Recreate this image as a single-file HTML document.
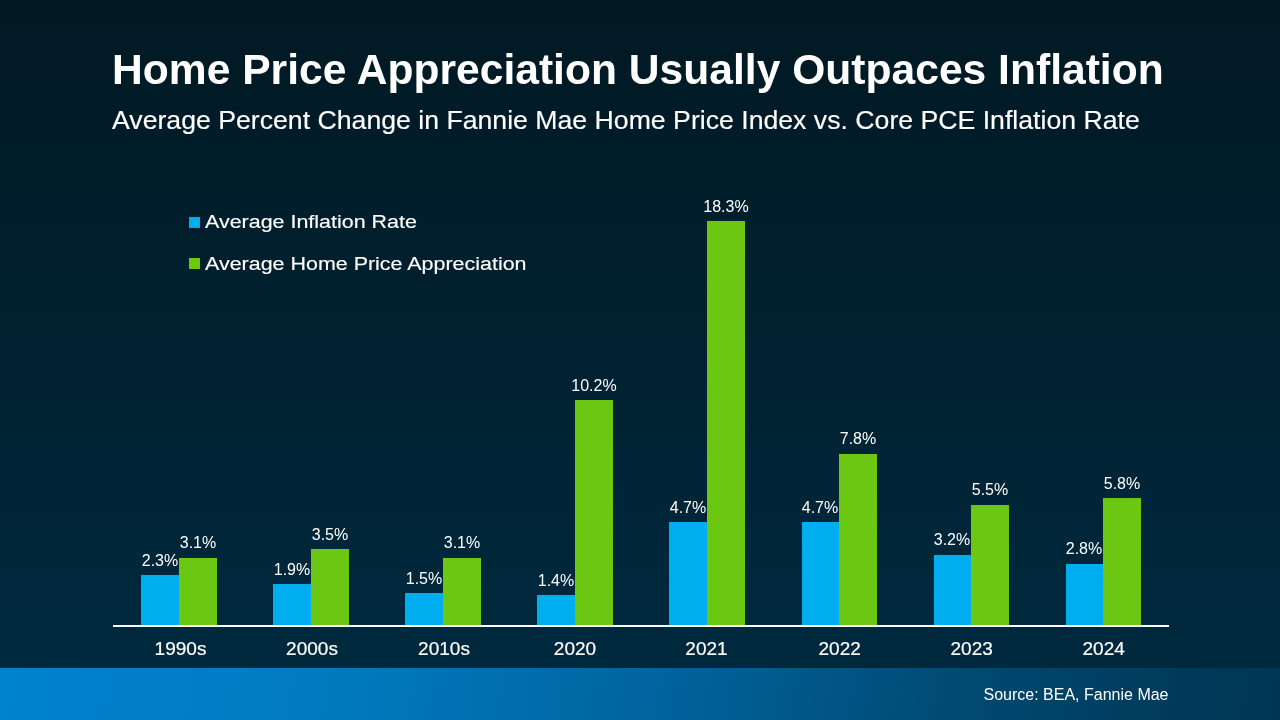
<!DOCTYPE html>
<html lang="en">
<head>
<meta charset="utf-8">
<title>Home Price Appreciation Usually Outpaces Inflation</title>
<style>
html,body{margin:0;padding:0;}
body{width:1280px;height:720px;overflow:hidden;background:#02263d;font-family:"Liberation Sans",sans-serif;color:#fff;}
.slide{position:relative;width:1280px;height:720px;overflow:hidden;background:linear-gradient(180deg,#011923 0px,#00293e 668px);}
.footer{position:absolute;left:0;top:668px;width:1280px;height:52px;background:linear-gradient(100deg,#0082ce 0%,#007bc0 25%,#0065a0 50%,#004b74 74%,#003a5a 92%,#003654 100%);}
.t{position:absolute;white-space:nowrap;margin:0;font-weight:normal;}
.c{text-align:center;}
.s{-webkit-text-stroke:0.2px #fff;}
.s1{-webkit-text-stroke:0.15px #fff;}
.bar{position:absolute;}
.b{background:#00aeef;}
.g{background:#6cc712;}
.axis{position:absolute;left:113px;top:625px;width:1056px;height:2px;background:#fff;}
.sw{position:absolute;width:11px;height:11px;}
</style>
</head>
<body>
<div class="slide">
<h1 class="t title" style="left:112.20px;top:48.15px;font-size:43.3px;line-height:43.3px;font-weight:bold;transform:scaleX(0.9838);transform-origin:0 0;">Home Price Appreciation Usually Outpaces Inflation</h1>
<h2 class="t sub s1" style="left:112.00px;top:106.92px;font-size:26.67px;line-height:26.67px;">Average Percent Change in Fannie Mae Home Price Index vs. Core PCE Inflation Rate</h2>
<div class="legend">
<span class="sw b" style="left:189px;top:217px;"></span>
<div class="t lg s1" style="left:205.00px;top:212.35px;font-size:19.2px;line-height:19.2px;transform:scaleX(1.118);transform-origin:0 0;">Average Inflation Rate</div>
<span class="sw g" style="left:189px;top:258px;"></span>
<div class="t lg s1" style="left:205.00px;top:253.55px;font-size:19.2px;line-height:19.2px;transform:scaleX(1.118);transform-origin:0 0;">Average Home Price Appreciation</div>
</div>
<div class="chart">
<div class="bar b" style="left:141px;top:575px;width:38px;height:51px;"></div>
<div class="bar g" style="left:179px;top:558px;width:38px;height:68px;"></div>
<div class="t c" style="left:110.00px;top:552.76px;font-size:16px;line-height:16px;width:100px;">2.3%</div>
<div class="t c" style="left:148.00px;top:534.76px;font-size:16px;line-height:16px;width:100px;">3.1%</div>
<div class="t c s" style="left:120.50px;top:639.12px;font-size:19.0px;line-height:19.0px;width:120px;">1990s</div>
<div class="bar b" style="left:273px;top:584px;width:38px;height:42px;"></div>
<div class="bar g" style="left:311px;top:549px;width:38px;height:77px;"></div>
<div class="t c" style="left:242.00px;top:561.76px;font-size:16px;line-height:16px;width:100px;">1.9%</div>
<div class="t c" style="left:280.00px;top:526.76px;font-size:16px;line-height:16px;width:100px;">3.5%</div>
<div class="t c s" style="left:252.00px;top:639.12px;font-size:19.0px;line-height:19.0px;width:120px;">2000s</div>
<div class="bar b" style="left:405px;top:593px;width:38px;height:33px;"></div>
<div class="bar g" style="left:443px;top:558px;width:38px;height:68px;"></div>
<div class="t c" style="left:374.00px;top:570.76px;font-size:16px;line-height:16px;width:100px;">1.5%</div>
<div class="t c" style="left:412.00px;top:534.76px;font-size:16px;line-height:16px;width:100px;">3.1%</div>
<div class="t c s" style="left:384.00px;top:639.12px;font-size:19.0px;line-height:19.0px;width:120px;">2010s</div>
<div class="bar b" style="left:537px;top:595px;width:38px;height:31px;"></div>
<div class="bar g" style="left:575px;top:400px;width:38px;height:226px;"></div>
<div class="t c" style="left:506.00px;top:572.76px;font-size:16px;line-height:16px;width:100px;">1.4%</div>
<div class="t c" style="left:544.00px;top:377.76px;font-size:16px;line-height:16px;width:100px;">10.2%</div>
<div class="t c s" style="left:515.00px;top:639.12px;font-size:19.0px;line-height:19.0px;width:120px;">2020</div>
<div class="bar b" style="left:669px;top:522px;width:38px;height:104px;"></div>
<div class="bar g" style="left:707px;top:221px;width:38px;height:405px;"></div>
<div class="t c" style="left:638.00px;top:499.76px;font-size:16px;line-height:16px;width:100px;">4.7%</div>
<div class="t c" style="left:676.00px;top:198.76px;font-size:16px;line-height:16px;width:100px;">18.3%</div>
<div class="t c s" style="left:646.50px;top:639.12px;font-size:19.0px;line-height:19.0px;width:120px;">2021</div>
<div class="bar b" style="left:802px;top:522px;width:37px;height:104px;"></div>
<div class="bar g" style="left:839px;top:454px;width:38px;height:172px;"></div>
<div class="t c" style="left:770.00px;top:499.76px;font-size:16px;line-height:16px;width:100px;">4.7%</div>
<div class="t c" style="left:808.00px;top:430.76px;font-size:16px;line-height:16px;width:100px;">7.8%</div>
<div class="t c s" style="left:779.70px;top:639.12px;font-size:19.0px;line-height:19.0px;width:120px;">2022</div>
<div class="bar b" style="left:934px;top:555px;width:37px;height:71px;"></div>
<div class="bar g" style="left:971px;top:505px;width:38px;height:121px;"></div>
<div class="t c" style="left:902.00px;top:531.76px;font-size:16px;line-height:16px;width:100px;">3.2%</div>
<div class="t c" style="left:940.00px;top:481.76px;font-size:16px;line-height:16px;width:100px;">5.5%</div>
<div class="t c s" style="left:911.70px;top:639.12px;font-size:19.0px;line-height:19.0px;width:120px;">2023</div>
<div class="bar b" style="left:1066px;top:564px;width:37px;height:62px;"></div>
<div class="bar g" style="left:1103px;top:498px;width:38px;height:128px;"></div>
<div class="t c" style="left:1034.00px;top:540.76px;font-size:16px;line-height:16px;width:100px;">2.8%</div>
<div class="t c" style="left:1072.00px;top:475.76px;font-size:16px;line-height:16px;width:100px;">5.8%</div>
<div class="t c s" style="left:1043.70px;top:639.12px;font-size:19.0px;line-height:19.0px;width:120px;">2024</div>
<div class="axis"></div>
</div>
<div class="footer"></div>
<div class="t src" style="left:768.50px;top:686.76px;font-size:16px;line-height:16px;width:400px;text-align:right;">Source: BEA, Fannie Mae</div>
</div>
</body>
</html>
